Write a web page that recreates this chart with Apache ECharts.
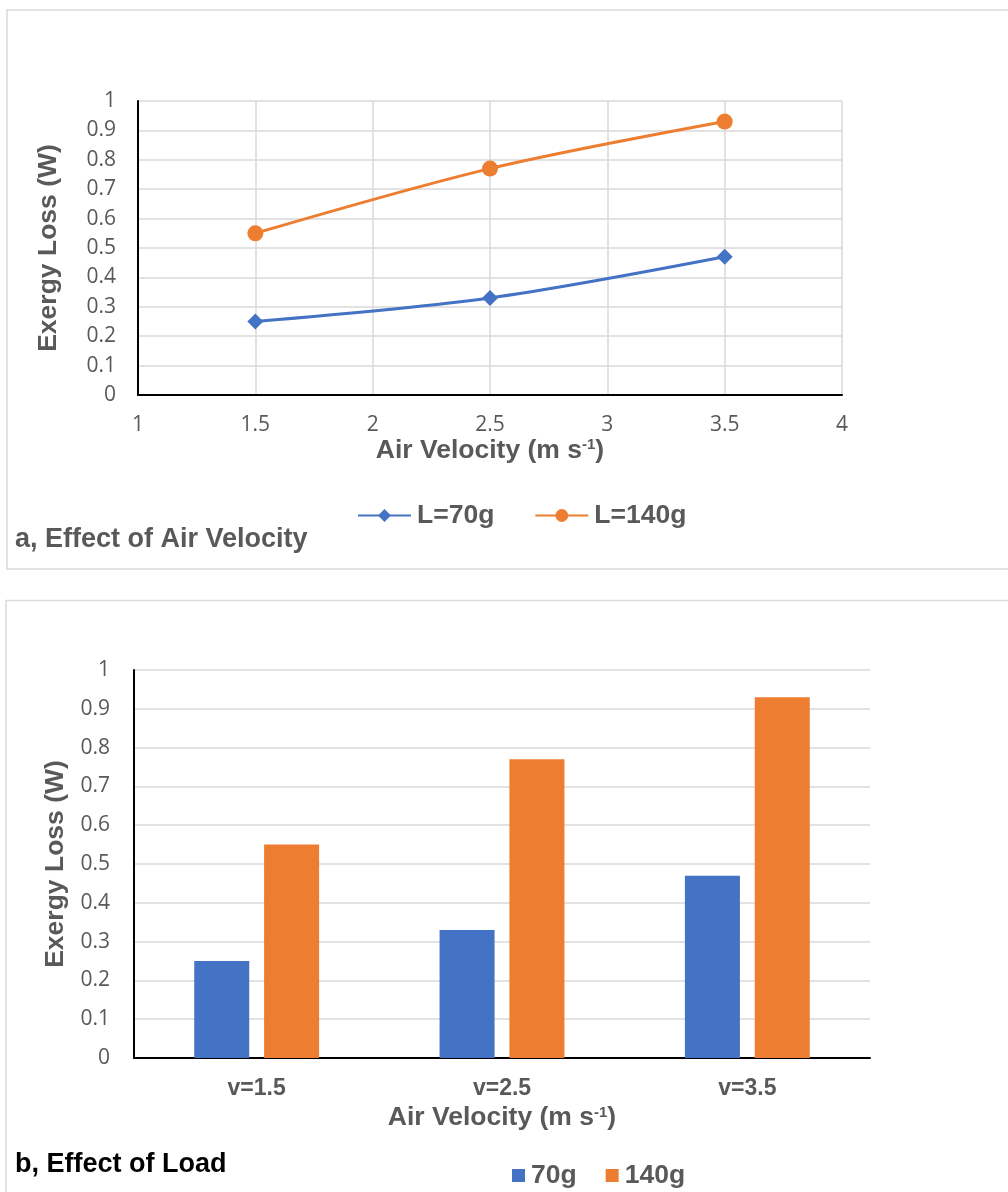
<!DOCTYPE html>
<html>
<head>
<meta charset="utf-8">
<script src="https://cdn.jsdelivr.net/npm/echarts@6/dist/echarts.min.js"></script>
<style>
html,body{margin:0;padding:0;background:#fff;}
#c{width:1008px;height:1192px;}
</style>
</head>
<body>
<div id="c"></div>
<script>
// ---- data ----
const velocities = [1.5, 2.5, 3.5];
const load70 = [0.25, 0.33, 0.47];
const load140 = [0.55, 0.77, 0.93];
const barCategories = ['v=1.5', 'v=2.5', 'v=3.5'];
const lineSeriesNames = ['L=70g', 'L=140g'];
const barSeriesNames = ['70g', '140g'];
const panelTitleA = 'a, Effect of Air Velocity';
const panelTitleB = 'b, Effect of Load';
const yTitle = 'Exergy Loss (W)';

const BLUE = '#4472C4', ORANGE = '#ED7D31', GREY = '#595959', GRID = '#d9d9d9';
const boldFont = 'Liberation Sans, Arial, sans-serif';
const tickFont = 'Open Sans, Noto Sans, sans-serif';

const xTitleRich = {
  a: {fontFamily: boldFont, fontWeight: 'bold', fontSize: 26.5, color: GREY, lineHeight: 26},
  s: {fontFamily: boldFont, fontWeight: 'bold', fontSize: 15, color: GREY, lineHeight: 16, verticalAlign: 'top'}
};
const xTitle = '{a|Air Velocity (m s}{s|-1}{a|)}';

const chart = echarts.init(document.getElementById('c'), null, {renderer: 'canvas'});

function yAxisCommon(gridIndex, labelMargin, nameGap) {
  return {
    type: 'value', gridIndex: gridIndex, min: 0, max: 1, interval: 0.1,
    axisLine: {show: true, lineStyle: {color: '#000', width: 2}},
    axisTick: {show: false},
    splitLine: {show: true, lineStyle: {color: GRID, width: 1.5}},
    axisLabel: {margin: labelMargin, color: GREY, fontFamily: tickFont, fontSize: 21},
    name: yTitle, nameLocation: 'middle', nameGap: nameGap,
    nameTextStyle: {fontFamily: boldFont, fontWeight: 'bold', fontSize: 26.5, color: GREY}
  };
}

const option = {
  animation: false,
  backgroundColor: '#fff',
  graphic: [
    {type: 'rect', shape: {x: 7, y: 10, width: 1020, height: 559}, style: {fill: 'none', stroke: GRID, lineWidth: 1.5}, z: -10},
    {type: 'rect', shape: {x: 6, y: 600.5, width: 1020, height: 620}, style: {fill: 'none', stroke: GRID, lineWidth: 1.5}, z: -10},
    {type: 'text', left: 15, top: 526, style: {text: panelTitleA, font: 'bold 27px ' + boldFont, fill: GREY}},
    {type: 'text', left: 15, top: 1151, style: {text: panelTitleB, font: 'bold 27px ' + boldFont, fill: '#000'}}
  ],
  legend: [
    {
      data: lineSeriesNames, left: 352, top: 497, itemWidth: 53, itemHeight: 16, itemGap: 40,
      textStyle: {fontFamily: boldFont, fontWeight: 'bold', fontSize: 26.5, color: GREY, padding: [0, 0, 0, 1]}
    },
    {
      data: barSeriesNames, left: 507, top: 1157, icon: 'rect', itemWidth: 13, itemHeight: 13, itemGap: 29,
      textStyle: {fontFamily: boldFont, fontWeight: 'bold', fontSize: 26.5, color: GREY, padding: [0, 0, 0, 1]}
    }
  ],
  grid: [
    {left: 138, right: 166, top: 101, height: 294},
    {left: 134, right: 138, top: 670, height: 388}
  ],
  xAxis: [
    {
      type: 'value', gridIndex: 0, min: 1, max: 4, interval: 0.5,
      axisLine: {show: true, onZero: false, lineStyle: {color: '#000', width: 2}},
      axisTick: {show: false},
      splitLine: {show: true, lineStyle: {color: GRID, width: 1.5}},
      axisLabel: {margin: 20, color: GREY, fontFamily: tickFont, fontSize: 21},
      name: xTitle, nameLocation: 'middle', nameGap: 40,
      nameTextStyle: {rich: xTitleRich}
    },
    {
      type: 'category', gridIndex: 1, data: barCategories,
      axisLine: {show: true, lineStyle: {color: '#000', width: 2}},
      axisTick: {show: false},
      axisLabel: {margin: 19, color: GREY, fontFamily: boldFont, fontWeight: 'bold', fontSize: 23},
      name: xTitle, nameLocation: 'middle', nameGap: 47,
      nameTextStyle: {rich: xTitleRich}
    }
  ],
  yAxis: [
    yAxisCommon(0, 22, 76),
    yAxisCommon(1, 24, 63)
  ],
  series: [
    {
      name: lineSeriesNames[0], type: 'line', xAxisIndex: 0, yAxisIndex: 0,
      data: velocities.map((v, i) => [v, load70[i]]),
      smooth: 0.3, symbol: 'diamond', symbolSize: 16,
      lineStyle: {color: BLUE, width: 3}, itemStyle: {color: BLUE}
    },
    {
      name: lineSeriesNames[1], type: 'line', xAxisIndex: 0, yAxisIndex: 0,
      data: velocities.map((v, i) => [v, load140[i]]),
      smooth: 0.3, symbol: 'circle', symbolSize: 16,
      lineStyle: {color: ORANGE, width: 3}, itemStyle: {color: ORANGE}
    },
    {
      name: barSeriesNames[0], type: 'bar', xAxisIndex: 1, yAxisIndex: 1,
      data: load70, barWidth: 55, barGap: '27%', itemStyle: {color: BLUE}
    },
    {
      name: barSeriesNames[1], type: 'bar', xAxisIndex: 1, yAxisIndex: 1,
      data: load140, barWidth: 55, barGap: '27%', itemStyle: {color: ORANGE}
    }
  ]
};
chart.setOption(option);
</script>
</body>
</html>
